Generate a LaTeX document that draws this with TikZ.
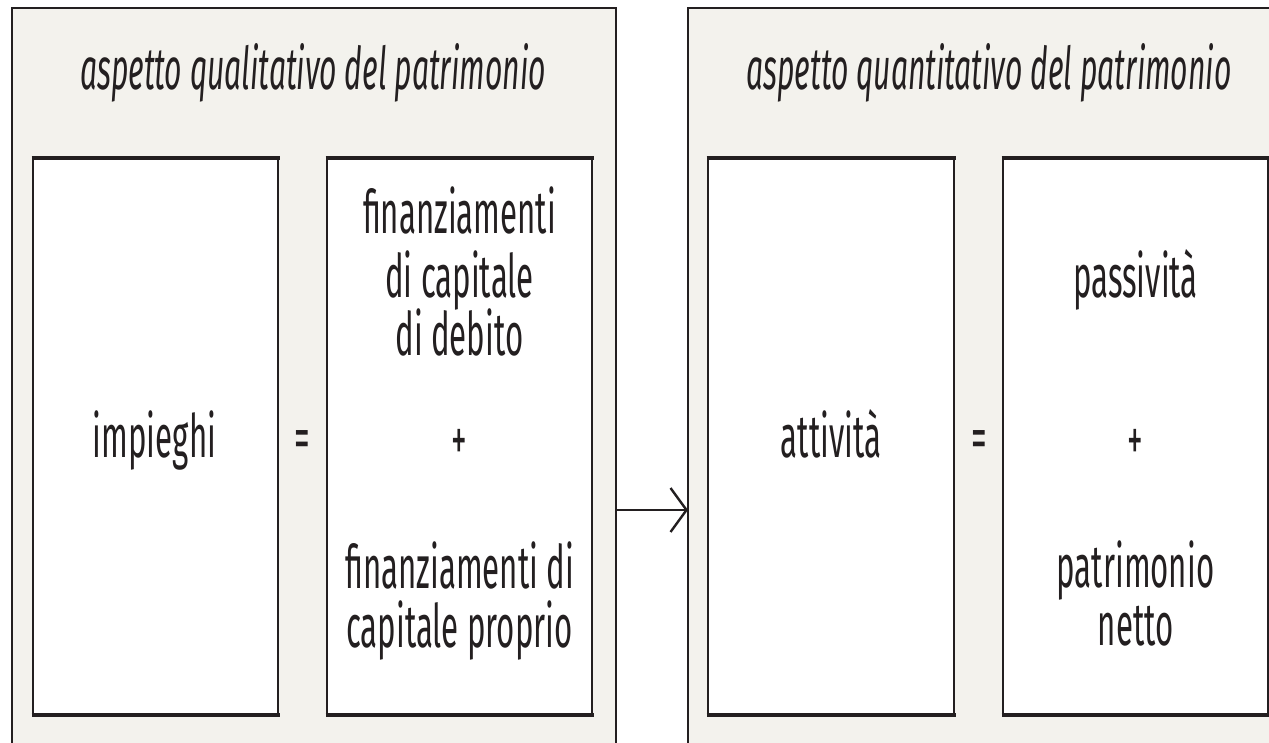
\documentclass[tikz,border=0pt]{standalone}
\usepackage{fontspec}
\setmainfont{Fira Sans}[FakeStretch=0.52]
\newfontfamily\titlefont{Fira Sans}[FakeStretch=0.51]
\usetikzlibrary{arrows.meta}
\definecolor{panel}{HTML}{F3F2ED}
\definecolor{ink}{HTML}{231F20}
\begin{document}
\begin{tikzpicture}[x=1pt, y=-1pt,
  outer/.style={draw=ink, fill=panel, line width=2.6pt, rectangle, inner sep=0pt, outer sep=0pt,
    minimum width=604pt, minimum height=1004pt},
  inner/.style={draw=ink, fill=white, line width=2.4pt, rectangle, inner sep=0pt, outer sep=0pt,
    minimum height=557pt},
  edge/.style={draw=ink, line width=4pt},
  txt/.style={text=ink, font=\fontsize{60}{66}\selectfont, anchor=base, inner sep=0pt},
  sym/.style={text=ink, font=\fontsize{60}{66}\selectfont, anchor=center, inner sep=0pt},
  title/.style={text=ink, font=\fontsize{59}{66}\titlefont\itshape, anchor=base, inner sep=0pt},
  conn/.style={draw=ink, line width=2.6pt, -{Straight Barb[length=16pt, width=44pt, line width=2.4pt]}}
]
\useasboundingbox (0,0) rectangle (1269,742);
\clip (0,0) rectangle (1269,742);
% outer panels
\node[outer] (qual) at (314,510) {};
\node[outer] (quant) at (990,510) {};
% inner boxes
\node[inner, minimum width=245pt] (impBox) at (155.5,436.5) {};
\node[inner, minimum width=265pt] (finBox) at (459.5,436.5) {};
\node[inner, minimum width=246pt] (attBox) at (831,436.5) {};
\node[inner, minimum width=265pt] (pasBox) at (1135.5,436.5) {};
\foreach \n in {impBox,finBox,attBox,pasBox}{
  \draw[edge] ([xshift=-1.5pt]\n.north west) -- ([xshift=1.5pt]\n.north east);
  \draw[edge] ([xshift=-1.5pt]\n.south west) -- ([xshift=1.5pt]\n.south east);
}
% titles
\node[title] (qualT) at (313,89) {aspetto qualitativo del patrimonio};
\node[title] (quantT) at (989,89) {aspetto quantitativo del patrimonio};
% left equation
\node[txt] (imp) at (154.5,457) {impieghi};
\node[sym] (eqL) at (302.5,445) {=};
\node[txt] (fin1) at (459.5,233) {finanziamenti};
\node[txt] (fin2) at (459.5,297) {di capitale};
\node[txt] (fin3) at (459.5,355) {di debito};
\node[sym] (plusL) at (459.5,445) {+};
\node[txt] (fin4) at (459.5,588) {finanziamenti di};
\node[txt] (fin5) at (459.5,647) {capitale proprio};
% right equation
\node[txt] (att) at (831,457) {attività};
\node[sym] (eqR) at (979,445) {=};
\node[txt] (pas) at (1135.5,297) {passività};
\node[sym] (plusR) at (1135.5,445) {+};
\node[txt] (pn1) at (1135.5,587) {patrimonio};
\node[txt] (pn2) at (1135.5,645) {netto};
% connector
\draw[conn] (qual.east) -- (quant.west);
\end{tikzpicture}
\end{document}
